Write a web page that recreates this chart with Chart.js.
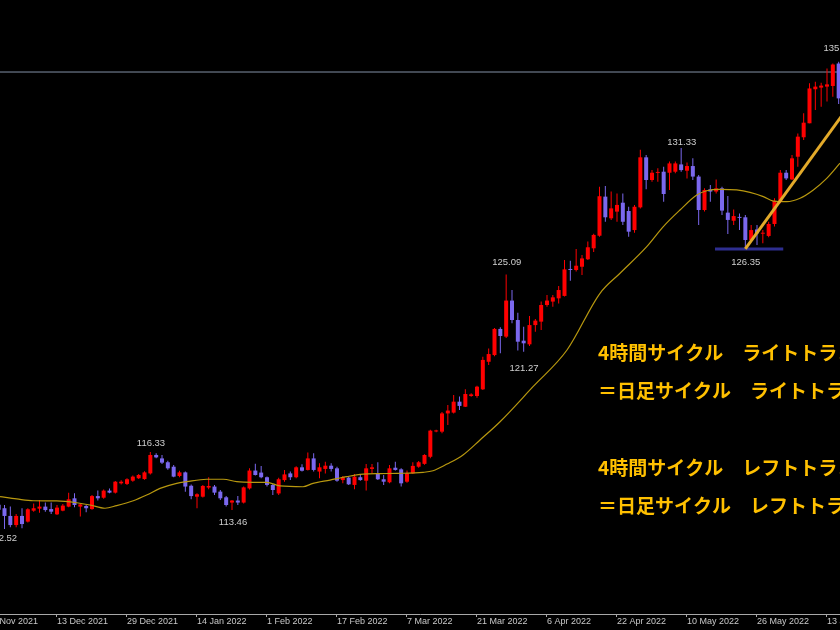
<!DOCTYPE html>
<html><head><meta charset="utf-8">
<script src="https://cdn.jsdelivr.net/npm/chart.js@4.4.1/dist/chart.umd.min.js"></script>
<style>html,body{margin:0;padding:0;background:#000;overflow:hidden}canvas{display:block}</style>
</head><body><canvas id="c" width="840" height="630"></canvas>
<script>
const dates = ['29 Nov 2021','30 Nov 2021','1 Dec 2021','2 Dec 2021','3 Dec 2021','6 Dec 2021','7 Dec 2021','8 Dec 2021','9 Dec 2021','10 Dec 2021',
'13 Dec 2021','14 Dec 2021','15 Dec 2021','16 Dec 2021','17 Dec 2021','20 Dec 2021','21 Dec 2021','22 Dec 2021','23 Dec 2021','24 Dec 2021',
'27 Dec 2021','28 Dec 2021','29 Dec 2021','30 Dec 2021','31 Dec 2021','3 Jan 2022','4 Jan 2022','5 Jan 2022','6 Jan 2022','7 Jan 2022',
'10 Jan 2022','11 Jan 2022','12 Jan 2022','13 Jan 2022','14 Jan 2022','17 Jan 2022','18 Jan 2022','19 Jan 2022','20 Jan 2022','21 Jan 2022',
'24 Jan 2022','25 Jan 2022','26 Jan 2022','27 Jan 2022','28 Jan 2022','31 Jan 2022','1 Feb 2022','2 Feb 2022','3 Feb 2022','4 Feb 2022',
'7 Feb 2022','8 Feb 2022','9 Feb 2022','10 Feb 2022','11 Feb 2022','14 Feb 2022','15 Feb 2022','16 Feb 2022','17 Feb 2022','18 Feb 2022',
'21 Feb 2022','22 Feb 2022','23 Feb 2022','24 Feb 2022','25 Feb 2022','28 Feb 2022','1 Mar 2022','2 Mar 2022','3 Mar 2022','4 Mar 2022',
'7 Mar 2022','8 Mar 2022','9 Mar 2022','10 Mar 2022','11 Mar 2022','13 Mar 2022','14 Mar 2022','15 Mar 2022','16 Mar 2022','17 Mar 2022',
'18 Mar 2022','20 Mar 2022','21 Mar 2022','22 Mar 2022','23 Mar 2022','24 Mar 2022','25 Mar 2022','28 Mar 2022','29 Mar 2022','30 Mar 2022',
'31 Mar 2022','1 Apr 2022','4 Apr 2022','5 Apr 2022','6 Apr 2022','7 Apr 2022','8 Apr 2022','11 Apr 2022','12 Apr 2022','13 Apr 2022',
'14 Apr 2022','15 Apr 2022','18 Apr 2022','19 Apr 2022','20 Apr 2022','21 Apr 2022','22 Apr 2022','25 Apr 2022','26 Apr 2022','27 Apr 2022',
'28 Apr 2022','29 Apr 2022','2 May 2022','3 May 2022','4 May 2022','5 May 2022','6 May 2022','9 May 2022','10 May 2022','11 May 2022',
'12 May 2022','13 May 2022','16 May 2022','17 May 2022','18 May 2022','19 May 2022','20 May 2022','23 May 2022','24 May 2022','25 May 2022',
'26 May 2022','27 May 2022','30 May 2022','31 May 2022','1 Jun 2022','2 Jun 2022','3 Jun 2022','6 Jun 2022','7 Jun 2022','8 Jun 2022',
'9 Jun 2022','10 Jun 2022','13 Jun 2022','14 Jun 2022','15 Jun 2022'];

const open = [113.72,113.55,113.17,112.72,113.17,112.89,113.43,113.53,113.63,113.51,
113.25,113.43,113.63,114.04,113.63,113.66,113.51,114.15,114.07,114.42,
114.32,114.78,114.75,114.91,115.03,114.99,115.27,116.18,116.01,115.82,
115.60,115.14,115.32,114.66,114.12,114.12,114.57,114.62,114.37,114.09,
113.83,113.93,113.83,114.53,115.41,115.31,115.08,114.70,114.28,114.94,
115.27,115.08,115.57,115.44,116.01,115.36,115.49,115.65,115.52,114.94,
115.06,114.70,115.08,114.91,115.49,115.27,114.98,114.83,115.55,115.47,
114.86,115.27,115.60,115.74,116.09,117.34,117.33,118.23,118.27,118.81,
118.56,119.09,119.09,119.42,120.78,121.11,122.40,122.02,123.80,122.84,
121.82,121.64,122.59,122.76,123.58,123.75,123.91,124.03,125.36,125.31,
125.47,125.84,126.38,127.00,128.93,127.86,128.19,128.63,128.22,127.28,
128.40,130.87,129.75,130.10,130.16,130.11,130.16,130.52,130.21,130.44,
129.92,128.27,129.29,129.18,129.34,128.14,127.74,127.93,127.91,126.79,
127.31,127.10,126.99,127.58,128.68,130.11,129.78,130.90,131.86,132.55,
134.23,134.31,134.36,134.39,135.50];

const high = [113.90,113.71,113.63,113.27,113.55,113.55,113.79,113.96,113.83,113.83,
113.71,113.76,114.32,114.29,113.79,113.71,114.20,114.42,114.47,114.53,
114.90,114.93,115.03,115.16,115.24,115.37,116.33,116.26,116.18,115.90,
115.69,115.40,115.36,114.72,114.29,114.70,115.08,114.70,114.45,114.15,
113.96,114.15,114.62,115.52,115.74,115.64,115.12,114.75,115.05,115.44,
115.36,115.62,115.72,116.30,116.26,115.77,115.85,115.77,115.60,115.14,
115.14,115.24,115.19,115.73,115.73,115.82,115.19,115.69,115.85,115.52,
115.41,115.82,115.88,116.22,117.42,117.42,118.30,118.65,119.14,119.06,
119.42,119.22,119.60,121.03,121.44,122.45,122.48,125.09,124.32,123.20,
122.51,123.04,122.89,123.75,124.08,124.08,124.52,125.80,125.77,126.35,
126.05,126.71,127.10,129.42,129.45,129.18,129.09,129.09,128.43,128.52,
131.25,130.98,130.24,130.33,130.41,130.66,130.66,131.33,130.61,130.82,
130.00,129.34,129.50,129.78,129.42,128.96,128.30,128.10,128.02,127.53,
127.53,127.28,127.69,128.85,130.24,130.24,130.98,132.05,133.04,134.52,
134.60,134.55,135.26,135.50,135.59];

const low = [113.40,112.52,112.61,112.61,112.56,112.84,113.38,113.33,113.38,113.27,
113.22,113.40,113.60,113.60,113.14,113.35,113.48,113.93,114.02,114.29,
114.28,114.72,114.70,114.86,114.99,114.95,115.22,116.02,115.73,115.45,
115.08,115.08,114.37,113.99,113.55,114.08,114.49,114.20,113.96,113.63,
113.46,113.71,113.78,114.48,115.16,115.03,114.62,114.20,114.20,114.86,
114.94,115.03,115.36,115.41,115.36,115.03,115.27,115.36,114.86,114.78,
114.70,114.49,114.91,114.42,115.27,114.94,114.70,114.78,115.41,114.62,
114.81,115.24,115.55,115.70,116.02,117.30,117.25,117.66,118.23,118.40,
118.55,119.05,119.00,119.38,120.62,121.05,121.20,121.95,122.68,121.33,
121.27,121.56,122.26,122.35,123.50,123.50,123.66,124.00,124.78,125.23,
125.06,125.80,126.20,126.95,127.69,127.78,127.69,127.53,126.95,127.15,
128.35,129.29,129.67,129.67,128.68,129.26,130.08,130.16,129.83,129.75,
127.53,128.19,128.68,129.09,128.02,127.09,127.53,127.28,126.35,126.71,
126.54,126.63,126.92,127.45,128.60,129.75,129.75,130.41,131.73,132.55,
133.21,133.37,133.62,133.86,133.50];

const close = [113.48,113.17,112.72,113.17,112.77,113.50,113.55,113.63,113.46,113.38,
113.58,113.68,113.99,113.71,113.74,113.55,114.15,114.04,114.42,114.32,
114.86,114.86,114.98,115.11,115.19,115.32,116.18,116.06,115.80,115.52,
115.11,115.32,114.62,114.15,114.24,114.65,114.65,114.32,114.04,113.71,
113.93,113.83,114.58,115.41,115.19,115.08,114.70,114.45,114.98,115.22,
115.08,115.57,115.40,116.01,115.44,115.57,115.65,115.49,114.91,115.08,
114.73,115.11,114.94,115.52,115.57,114.98,114.86,115.52,115.44,114.78,
115.27,115.64,115.82,116.18,117.38,117.38,118.23,118.37,118.81,118.60,
119.19,119.17,119.55,120.87,121.16,122.40,122.05,123.80,122.84,121.77,
121.69,122.59,122.81,123.58,123.80,123.96,124.32,125.34,125.31,125.52,
125.88,126.43,127.04,128.95,127.91,128.35,128.52,127.69,127.20,128.43,
130.87,129.75,130.11,130.14,129.06,130.57,130.57,130.24,130.44,129.92,
128.27,129.26,129.18,129.34,128.24,127.78,127.97,127.88,126.79,127.28,
127.12,127.15,127.58,128.73,130.11,129.83,130.82,131.89,132.58,134.27,
134.36,134.41,134.47,135.45,133.78];

// moving average line (bar position, price)
const maIndex = [0.23,3.09,5.94,9.95,13.38,15.66,18.23,20.23,23.08,25.37,27.66,30.52,32.23,35.66,38.51,40.81,43.65,45.95,48.23,52.17,53.89,56.8,59.7,62.46,65.37,68.29,72.75,74.46,76.86,79.6,82.52,85.95,91.6,97.43,103.09,106.52,111.1,113.94,116.8,119.67,121.38,123.66,126.52,128.8,131.09,132.8,135.1,137.38,139.66,141.95,144.23];
const maValue = [114.12,114.01,113.92,113.91,113.82,113.71,113.55,113.68,113.92,114.20,114.53,114.78,114.86,114.98,114.98,114.86,114.83,114.83,114.65,114.61,114.78,114.94,115.11,115.23,115.26,115.27,115.32,115.40,115.73,116.18,116.92,117.82,119.55,121.36,124.16,125.15,126.46,127.45,128.27,129.01,129.22,129.29,129.26,129.14,128.93,128.71,128.68,128.85,129.26,129.83,130.58];

const trendIndex = [128, 150];
const trendValue = [126.35, 135.09];
const supportIndex = [122.8, 134.5];
const supportValue = [126.35, 126.35];
const levelIndex = [-5, 150];
const levelValue = [135.08, 135.08];

const tickIndex = [-2, 10, 22, 34, 46, 58, 70, 82, 94, 106, 118, 130, 142];
const tickLabels = ['25 Nov 2021','13 Dec 2021','29 Dec 2021','14 Jan 2022','1 Feb 2022','17 Feb 2022','7 Mar 2022','21 Mar 2022','6 Apr 2022','22 Apr 2022','10 May 2022','26 May 2022','13 Jun 2022'];

const noteText = ['135.59','131.33','126.35','125.09','121.27','116.33','113.46','112.52'];
const noteIndex = [143.9,117.09,128.06,87.09,90.06,26.11,40.17,0.74];
const noteValue = [136.27,131.63,125.68,125.68,120.45,116.75,112.87,112.08];

const jpText = ['4時間サイクル　ライトトランスレーション','＝日足サイクル　ライトトランスレーション','4時間サイクル　レフトトランスレーション','＝日足サイクル　レフトトランスレーション'];
const jpY = [353, 390.5, 468, 506];

const RED = '#FF0000', BLUE = '#7B68EE';
const bullBody = [], bearBody = [], bullWick = [], bearWick = [];
dates.forEach((d, k) => {
  const o = open[k], c = close[k];
  const body = {x: k, y: [Math.min(o, c), Math.max(o, c)]};
  const wick = {x: k, y: [low[k], high[k]]};
  if (c >= o) { bullBody.push(body); bullWick.push(wick); }
  else { bearBody.push(body); bearWick.push(wick); }
});
const pts = (xs, ys) => xs.map((v, k) => ({x: v, y: ys[k]}));

const notePlugin = {
  id: 'notes',
  afterDatasetsDraw(chart) {
    const {ctx, scales: {x, y}} = chart;
    ctx.save();
    ctx.font = '9.5px "Liberation Sans", Arial, sans-serif';
    ctx.fillStyle = '#CFCFCF';
    ctx.textAlign = 'center';
    ctx.textBaseline = 'middle';
    noteText.forEach((t, k) => ctx.fillText(t, x.getPixelForValue(noteIndex[k]), y.getPixelForValue(noteValue[k])));
    ctx.font = 'bold 19px "Noto Sans CJK JP", sans-serif';
    ctx.fillStyle = '#FFC000';
    ctx.textAlign = 'left';
    jpText.forEach((t, k) => ctx.fillText(t, 598, jpY[k]));
    ctx.restore();
  }
};

new Chart(document.getElementById('c'), {
  type: 'bar',
  data: {
    datasets: [
      {type: 'line', data: pts(levelIndex, levelValue), borderColor: '#8391A6', borderWidth: 1, pointRadius: 0, order: 9},
      {data: bullWick, backgroundColor: RED, maxBarThickness: 1, grouped: false, order: 5},
      {data: bearWick, backgroundColor: BLUE, maxBarThickness: 1, grouped: false, order: 5},
      {data: bullBody, backgroundColor: RED, maxBarThickness: 4, minBarLength: 1, grouped: false, order: 4},
      {data: bearBody, backgroundColor: BLUE, maxBarThickness: 4, minBarLength: 1, grouped: false, order: 4},
      {type: 'line', data: pts(maIndex, maValue), borderColor: '#B8980F', borderWidth: 1.2, pointRadius: 0, cubicInterpolationMode: 'monotone', order: 2},
      {type: 'line', data: pts(supportIndex, supportValue), borderColor: '#2E2E90', borderWidth: 3, pointRadius: 0, order: 1},
      {type: 'line', data: pts(trendIndex, trendValue), borderColor: '#E3AA2A', borderWidth: 3, pointRadius: 0, order: 0}
    ]
  },
  options: {
    responsive: false,
    animation: false,
    devicePixelRatio: 1,
    layout: {autoPadding: false, padding: {left: 0, right: 0, top: 0, bottom: 4}},
    plugins: {legend: {display: false}, tooltip: {enabled: false}},
    scales: {
      x: {
        type: 'linear', min: 0.229, max: 144.229, offset: false, bounds: 'data',
        grid: {display: true, drawOnChartArea: false, drawTicks: true, tickLength: 3, color: '#A8A8A8', offset: false},
        border: {display: true, color: '#A8A8A8', width: 1},
        afterBuildTicks: (scale) => { scale.ticks = tickIndex.map(v => ({value: v})); },
        afterFit: (scale) => { scale.paddingLeft = 0; scale.paddingRight = 0; },
        ticks: {
          autoSkip: false, maxRotation: 0, minRotation: 0, align: 'start', padding: 0,
          color: '#C8C8C8', font: {family: '"Liberation Sans", Arial, sans-serif', size: 9, lineHeight: 1},
          callback: (v) => { const k = tickIndex.indexOf(v); return k >= 0 ? tickLabels[k] : ''; }
        }
      },
      y: {type: 'linear', display: false, min: 108.33, max: 138.635, bounds: 'data'}
    }
  },
  plugins: [notePlugin]
});
</script></body></html>
